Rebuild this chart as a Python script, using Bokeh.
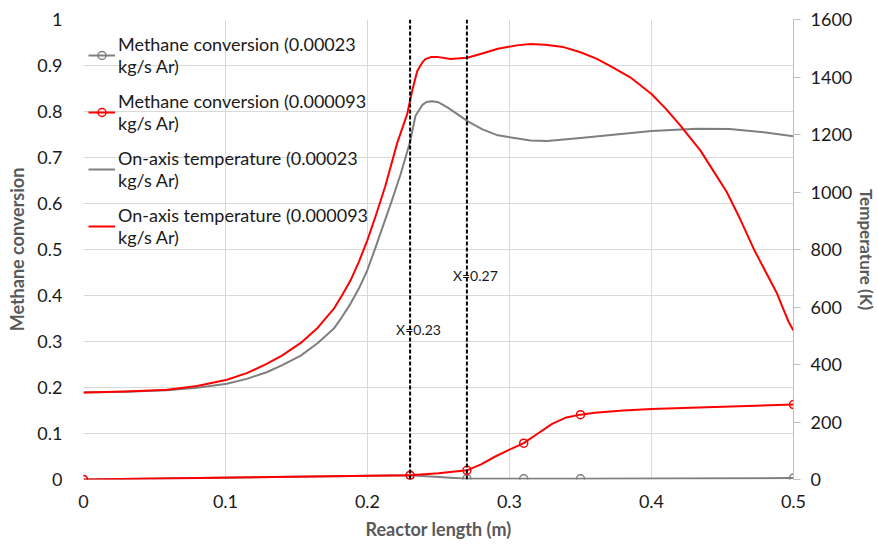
from bokeh.plotting import figure
from bokeh.models import Range1d, LinearAxis, Span, Label, Legend, LegendItem, FixedTicker
from bokeh.embed import file_html
from bokeh.resources import INLINE

# ---------------- data ----------------
# Methane conversion (left axis)
conv_x = [0.0, 0.23, 0.27, 0.31, 0.35, 0.5]
conv_00023 = [0.0, 0.009, 0.0015, 0.0015, 0.0015, 0.003]
conv_000093 = [0.0, 0.009, 0.020, 0.079, 0.141, 0.163]
# smooth path of the 0.000093 conversion curve
conv_000093_path_x = [0.0, 0.23, 0.25, 0.27, 0.28, 0.29, 0.30, 0.31, 0.32, 0.33, 0.34,
                      0.35, 0.36, 0.38, 0.40, 0.45, 0.5]
conv_000093_path_y = [0.0, 0.009, 0.0137, 0.020, 0.033, 0.050, 0.065, 0.079, 0.100, 0.121,
                      0.135, 0.141, 0.145, 0.150, 0.153, 0.158, 0.163]

# On-axis temperature (right axis, K)
temp_00023_x = [0.0, 0.03, 0.059, 0.08, 0.101, 0.115, 0.129, 0.14, 0.153, 0.165, 0.1763,
                0.182, 0.188, 0.194, 0.1998, 0.2055, 0.2115, 0.2175, 0.2232, 0.23, 0.2338,
                0.2385, 0.2415, 0.2455, 0.25, 0.256, 0.263, 0.271, 0.281, 0.2918, 0.3148,
                0.3265, 0.35, 0.375, 0.40, 0.432, 0.455, 0.479, 0.50]
temp_00023 = [303, 305, 310, 319, 333, 350, 373, 398, 431, 475, 525,
              565, 611, 665, 727, 805, 890, 975, 1060, 1175, 1265,
              1302, 1313, 1316, 1312, 1295, 1272, 1245, 1218, 1197, 1179,
              1177, 1188, 1200, 1212, 1220, 1219, 1208, 1194]

temp_000093_x = [0.0, 0.030, 0.059, 0.080, 0.101, 0.115, 0.129, 0.14, 0.153, 0.165, 0.1763,
                 0.182, 0.188, 0.194, 0.1998, 0.206, 0.2125, 0.2209, 0.228, 0.2315, 0.235,
                 0.2385, 0.2408, 0.245, 0.249, 0.2585, 0.2702, 0.2796, 0.2918, 0.305, 0.3148,
                 0.325, 0.338, 0.35, 0.3616, 0.373, 0.385, 0.40, 0.41, 0.4204, 0.427, 0.4345,
                 0.444, 0.453, 0.4625, 0.472, 0.4815, 0.4885, 0.4932, 0.4967, 0.50]
temp_000093 = [303, 306, 312, 325, 347, 370, 402, 432, 475, 528, 594,
               640, 692, 758, 831, 920, 1020, 1170, 1272, 1353, 1420,
               1450, 1462, 1470, 1470, 1463, 1467, 1480, 1498, 1510, 1515,
               1512, 1504, 1486, 1463, 1433, 1399, 1341, 1290, 1231, 1190, 1144,
               1070, 1000, 905, 802, 712, 646, 588, 547, 518]

# vertical markers
marker_x = [0.23, 0.27]
marker_labels = ["X=0.23", "X=0.27"]
marker_label_y = [0.326, 0.443]

# ticks
x_ticks = [0.0, 0.1, 0.2, 0.3, 0.4, 0.5]
x_tick_labels = ["0", "0.1", "0.2", "0.3", "0.4", "0.5"]
conv_ticks = [0.0, 0.1, 0.2, 0.3, 0.4, 0.5, 0.6, 0.7, 0.8, 0.9, 1.0]
conv_tick_labels = ["0", "0.1", "0.2", "0.3", "0.4", "0.5", "0.6", "0.7", "0.8", "0.9", "1"]
temp_ticks = [0, 200, 400, 600, 800, 1000, 1200, 1400, 1600]

series_labels = [
    "Methane conversion (0.00023\nkg/s Ar)",
    "Methane conversion (0.000093\nkg/s Ar)",
    "On-axis temperature (0.00023\nkg/s Ar)",
    "On-axis temperature (0.000093\nkg/s Ar)",
]

RED = "#ff0000"
GRAY = "#7f7f7f"
FONT = "Lato"

# ---------------- figure ----------------
p = figure(frame_width=710, frame_height=460, x_range=Range1d(0, 0.5), y_range=Range1d(0, 1),
           output_backend="svg", toolbar_location=None,
           min_border_left=83, min_border_right=85, min_border_top=19, min_border_bottom=67)
p.outline_line_color = None
p.background_fill_color = "white"
p.extra_y_ranges = {"temp": Range1d(0, 1600)}

# axes
xa = p.xaxis[0]
xa.ticker = FixedTicker(ticks=x_ticks)
xa.major_label_overrides = {t: l for t, l in zip(x_ticks, x_tick_labels)}
xa.axis_label = "Reactor length (m)"
ya = p.yaxis[0]
ya.ticker = FixedTicker(ticks=conv_ticks)
ya.major_label_overrides = {t: l for t, l in zip(conv_ticks, conv_tick_labels)}
ya.axis_label = "Methane conversion"

ra = LinearAxis(y_range_name="temp", ticker=FixedTicker(ticks=temp_ticks),
                axis_label="Temperature (K)")
p.add_layout(ra, "right")

for ax in (xa, ya, ra):
    ax.major_label_text_font = FONT
    ax.major_label_text_font_size = "18px"
    ax.major_label_text_color = "#1a1a1a"
    ax.axis_label_text_font = FONT
    ax.axis_label_text_font_size = "18px"
    ax.axis_label_text_font_style = "bold"
    ax.axis_label_text_color = "#595959"
    ax.minor_tick_line_color = None

for ax in (xa, ya):
    ax.axis_line_color = None
    ax.major_tick_line_color = None
    ax.major_tick_out = 0
    ax.major_tick_in = 0
xa.major_label_standoff = 15
xa.axis_label_standoff = 7
ya.major_label_standoff = 21
ya.axis_label_standoff = 6

ra.axis_line_color = "#bfbfbf"
ra.major_tick_line_color = "#bfbfbf"
ra.major_tick_out = 7
ra.major_tick_in = 0
ra.major_label_standoff = 10
ra.axis_label_standoff = 1
ra.axis_label_text_font_size = "17px"

# grid
p.xgrid.ticker = FixedTicker(ticks=x_ticks)
p.ygrid.ticker = FixedTicker(ticks=conv_ticks)
for g in (p.xgrid, p.ygrid):
    g.grid_line_color = "#d9d9d9"
    g.grid_line_width = 1

# ---------------- glyphs ----------------
l1 = p.line(conv_x, conv_00023, line_color=GRAY, line_width=2)
m1 = p.scatter(conv_x, conv_00023, marker="circle", size=8, line_color=GRAY,
               fill_color=None, line_width=1.5)
l2 = p.line(conv_000093_path_x, conv_000093_path_y, line_color=RED, line_width=2)
m2 = p.scatter(conv_x, conv_000093, marker="circle", size=8, line_color=RED,
               fill_color=None, line_width=1.5)
t1 = p.line(temp_00023_x, temp_00023, y_range_name="temp", line_color=GRAY, line_width=2,
            line_join="round")
t2 = p.line(temp_000093_x, temp_000093, y_range_name="temp", line_color=RED, line_width=2,
            line_join="round")

for mx, lab, ly in zip(marker_x, marker_labels, marker_label_y):
    p.add_layout(Span(location=mx, dimension="height", line_color="black",
                      line_width=2, line_dash="4 2"))
    p.add_layout(Label(x=mx, y=ly, text=lab, x_offset=-14, text_baseline="middle",
                       text_align="left", text_font=FONT, text_font_size="14px",
                       text_color="#1a1a1a"))

legend = Legend(items=[
    LegendItem(label=series_labels[0], renderers=[l1, m1]),
    LegendItem(label=series_labels[1], renderers=[l2, m2]),
    LegendItem(label=series_labels[2], renderers=[t1]),
    LegendItem(label=series_labels[3], renderers=[t2]),
], location=(5, 231))
legend.border_line_color = None
legend.background_fill_alpha = 0
legend.label_text_font = FONT
legend.label_text_font_size = "18px"
legend.label_text_color = "#1a1a1a"
legend.label_text_line_height = 1.4
legend.glyph_width = 27
legend.label_standoff = 3
legend.spacing = 13
legend.margin = 0
legend.padding = 0
p.add_layout(legend)

open("out.html", "w").write(file_html(p, INLINE))
